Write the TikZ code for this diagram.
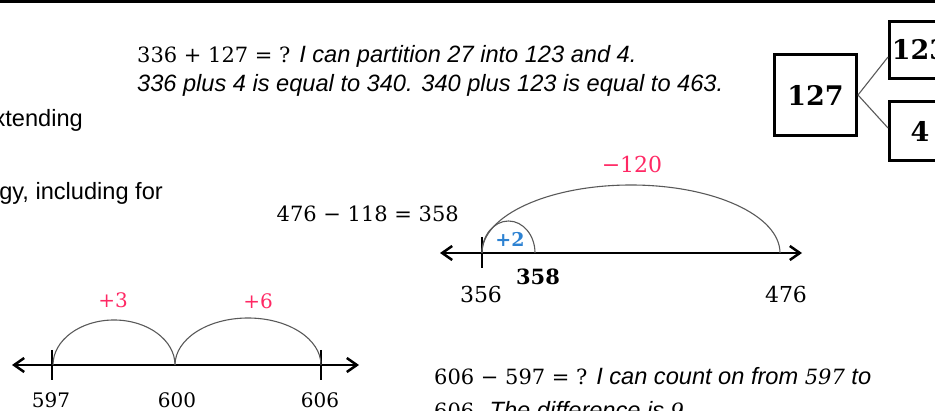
\documentclass[tikz,border=0pt]{standalone}
\usepackage{fontspec}
\usetikzlibrary{arrows.meta}
\newfontfamily\arialfont{Liberation Sans}
\newfontfamily\cambfont{DejaVu Serif}
\newcommand{\cambeq}[1]{{\cambfont\fontsize{21}{28}\selectfont #1}}
\definecolor{jumppink}{RGB}{255,40,100}
\definecolor{jumpblue}{RGB}{45,130,210}
\tikzset{
  prose/.style={font=\arialfont\fontsize{23.6}{28}\selectfont, inner sep=0pt},
  numtxt/.style={font=\cambfont\fontsize{22}{26}\selectfont, inner sep=0pt},
  nline/.style={line width=2.5pt,
    {Straight Barb[length=10pt,width=14pt]}-{Straight Barb[length=10pt,width=14pt]}},
  jump/.style={line width=1.1pt, draw=black!65},
  tick/.style={line width=1.3pt},
  partbox/.style={draw, line width=3pt, inner sep=0pt,
    font=\cambfont\bfseries\fontsize{27}{30}\selectfont},
}

\begin{document}
\begin{tikzpicture}[x=1pt,y=-1pt]
        \useasboundingbox (0,0) rectangle (935,411);
        \clip (0,0) rectangle (935,411);

        % rule at the top
        \draw[line width=2.5pt] (0,1.5) -- (935,1.5);

        % partitioning 127
        \node[prose, anchor=base west] (eqa1) at (137,63)
            {\cambeq{336 + 127 = ?} \itshape I can partition 27 into 123 and 4.};
        \node[prose, anchor=base west] (eqa2) at (137,92)
            {\itshape 336 plus 4 is equal to 340. 340 plus 123 is equal to 463.};

        \node[partbox, minimum width=82pt, minimum height=81pt] (b127) at (815.5,95) {127};
        \node[partbox, minimum width=61pt, minimum height=57pt] (b123) at (920,50) {123};
        \node[partbox, minimum width=61pt, minimum height=59pt] (b4) at (920,131) {4};
        \draw[jump] (b127.east) -- ([yshift=-7pt]b123.west);
        \draw[jump] (b127.east) -- ([yshift=3pt]b4.west);

        % text cut at the left edge
        \node[prose, anchor=base east] (cut1) at (83,127) {xtending};
        \node[prose, anchor=base east] (cut2) at (163,200) {gy, including for};

        % 476 - 118
        \node[anchor=base east, inner sep=0pt] (eqb) at (459,222) {\cambeq{476 − 118 = 358}};

        \coordinate (l2w) at (440,253);
        \coordinate (l2e) at (802,253);
        \coordinate (p356) at (482,253);
        \draw[nline] (l2w) -- (l2e);
        \draw[tick] ([yshift=16pt]p356) -- ([yshift=-15pt]p356);
        \draw[jump] (p356) arc[start angle=180, end angle=0, x radius=26.5pt, y radius=32pt];
        \draw[jump] (p356) arc[start angle=180, end angle=0, x radius=149pt, y radius=68pt];

        \node[numtxt, anchor=base, text=jumppink] (m120) at (632,173) {−120};
        \node[numtxt, anchor=base, text=jumpblue, font=\cambfont\bfseries\fontsize{19}{22}\selectfont] (p2) at (510,247) {+2};
        \node[numtxt, anchor=base, font=\cambfont\bfseries\fontsize{21}{24}\selectfont] (n358) at (538,285) {358};
        \node[numtxt, anchor=base] (n356) at (481,303) {356};
        \node[numtxt, anchor=base] (n476) at (786,303) {476};

        % 606 - 597
        \coordinate (l1w) at (12,365);
        \coordinate (l1e) at (359,365);
        \coordinate (p597) at (52,365);
        \coordinate (p600) at (175,365);
        \coordinate (p606) at (321,365);
        \draw[nline] (l1w) -- (l1e);
        \draw[tick] ([yshift=15pt]p597) -- ([yshift=-15pt]p597);
        \draw[tick] ([yshift=15pt]p606) -- ([yshift=-15pt]p606);
        \draw[jump] ([xshift=1pt]p597) arc[start angle=180, end angle=0, x radius=61pt, y radius=45pt];
        \draw[jump] (p600) arc[start angle=180, end angle=0, x radius=73pt, y radius=47pt];

        \node[numtxt, anchor=base, text=jumppink, font=\cambfont\fontsize{20}{24}\selectfont] (j3) at (113,308) {+3};
        \node[numtxt, anchor=base, text=jumppink, font=\cambfont\fontsize{20}{24}\selectfont] (j6) at (258,309) {+6};
        \node[numtxt, anchor=base, font=\cambfont\fontsize{20}{24}\selectfont] (n597) at (51,408) {597};
        \node[numtxt, anchor=base, font=\cambfont\fontsize{20}{24}\selectfont] (n600) at (177,408) {600};
        \node[numtxt, anchor=base, font=\cambfont\fontsize{20}{24}\selectfont] (n606) at (320,408) {606};

        \node[prose, anchor=base west] (eqc1) at (434,385)
            {\cambeq{606 − 597 = ?} \itshape I can count on from \cambeq{597} to};
        \node[prose, anchor=base west] (eqc2) at (434,419)
            {\cambeq{606.} \itshape The difference is \cambeq{9.}};
\end{tikzpicture}
\end{document}
